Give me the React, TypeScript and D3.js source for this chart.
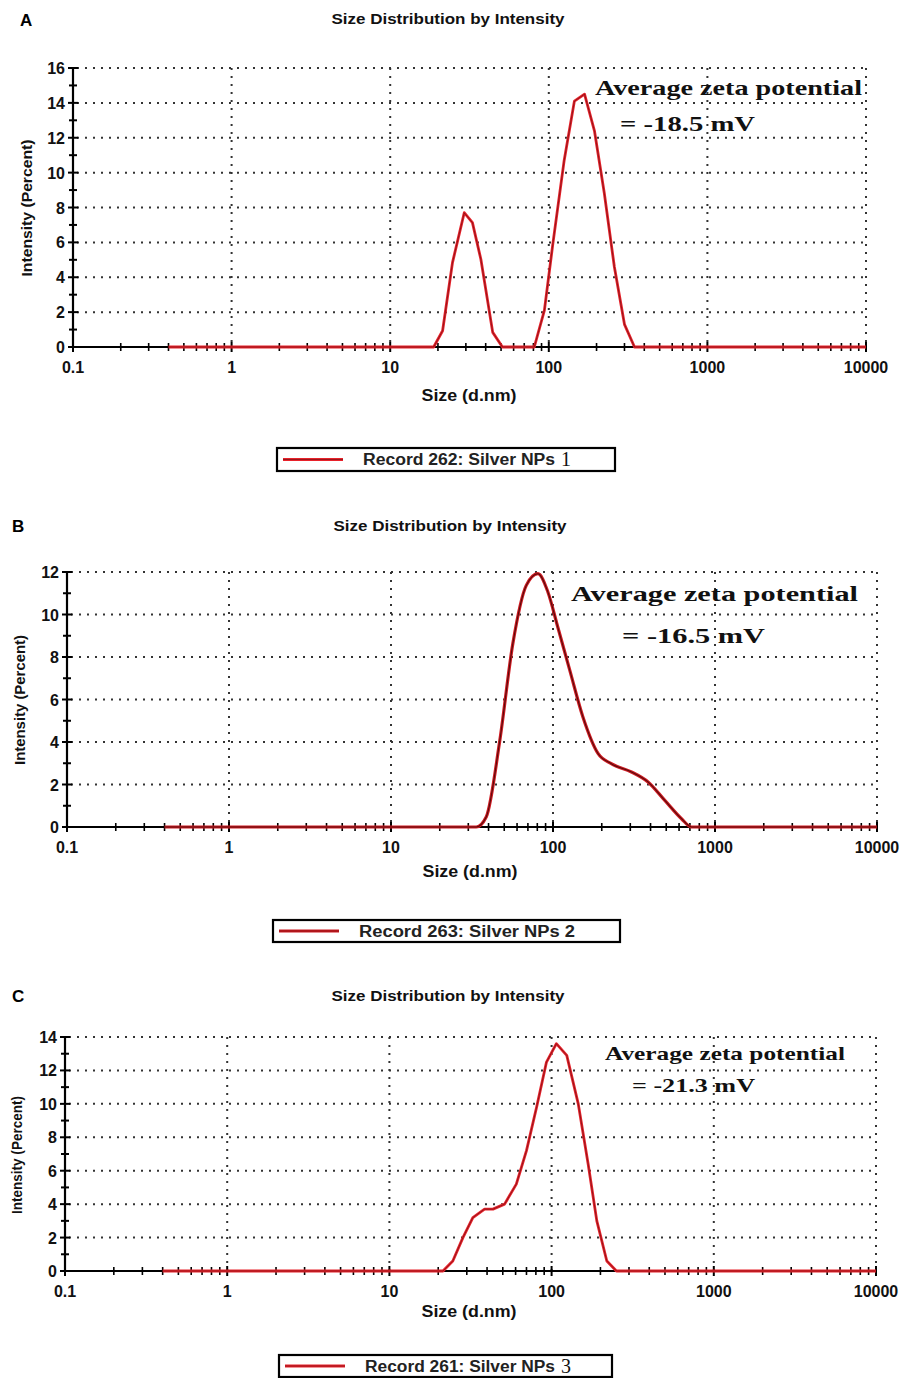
import React from "react";
import * as d3 from "d3";

// ---------- data ----------
const X_TICKS = [0.1, 1, 10, 100, 1000, 10000];
const X_TICK_LABELS = ["0.1", "1", "10", "100", "1000", "10000"];

const A_SIZE = [0.4, 18.8, 21.4, 24.7, 29.3, 33, 37.3, 44.3, 51, 81, 93.8, 106, 125, 145, 168, 194, 224, 259, 300, 347, 10000];
const A_INT = [0, 0, 0.93, 4.84, 7.7, 7.13, 5.03, 0.84, 0, 0, 2.1, 5.9, 10.7, 14.1, 14.5, 12.4, 8.8, 4.6, 1.3, 0, 0];

const B_SIZE = [0.4, 33.6, 38.7, 46.8, 56.5, 68.4, 80.7, 93, 107, 127, 153, 190, 229, 305, 386, 490, 621, 716, 10000];
const B_INT = [0, 0, 0.47, 4.0, 8.63, 11.37, 11.92, 11.06, 9.41, 7.37, 5.18, 3.45, 2.98, 2.59, 2.12, 1.25, 0.39, 0, 0];

const C_SIZE = [0.4, 21.4, 24.6, 28.4, 32.7, 38.6, 43.5, 51.3, 60.6, 70, 80.8, 93, 107, 124, 146, 168, 190, 219, 251, 10000];
const C_INT = [0, 0, 0.6, 2.0, 3.2, 3.7, 3.7, 4.0, 5.2, 7.2, 9.8, 12.5, 13.6, 12.9, 10.0, 6.4, 3.0, 0.6, 0, 0];

const PANEL_LETTERS = ["A", "B", "C"];
const TITLE = "Size Distribution by Intensity";
const X_LABEL = "Size (d.nm)";
const Y_LABEL = "Intensity (Percent)";
const Y_MAX = [16, 12, 14];
const LEGEND_TEXT = ["Record 262: Silver NPs", "Record 263: Silver NPs 2", "Record 261: Silver NPs"];
const LEGEND_SERIF = ["1", "", "3"];
const ZETA_LINE1 = "Average zeta potential";
const ZETA_LINE2 = ["= -18.5 mV", "= -16.5 mV", "= -21.3 mV"];

// ---------- layout ----------
const LAYOUT = [
  {
    left: 73, right: 866, top: 68, bottom: 347,
    letter: [20, 26], title: [448, 24], xlab: [469, 401], ylab: [27, 208, 137],
    legend: [277, 448, 338, 23], legTextW: 192,
    z1: [595, 95, 267, 21], z2: [620, 131, 135, 21],
    curve: d3.curveLinear, red: "#e8222b", dark: "#2a0505", redW: 2.8, darkW: 0.8, darkOp: 0.55,
  },
  {
    left: 67, right: 877, top: 572, bottom: 827,
    letter: [12, 532], title: [450, 531], xlab: [470, 877], ylab: [20, 700, 130],
    legend: [273, 920, 347, 22], legTextW: 216,
    z1: [571, 601, 287, 22], z2: [622, 643, 143, 22],
    curve: d3.curveMonotoneX, red: "#cf1b22", dark: "#3a0606", redW: 3.2, darkW: 1.1, darkOp: 0.8,
  },
  {
    left: 65, right: 876, top: 1037, bottom: 1271,
    letter: [12, 1002], title: [448, 1001], xlab: [469, 1317], ylab: [17, 1155, 118],
    legend: [279, 1355, 333, 22], legTextW: 190,
    z1: [605, 1060, 240, 19], z2: [632, 1092, 123, 19],
    curve: d3.curveLinear, red: "#e8222b", dark: "#2a0505", redW: 2.8, darkW: 0.8, darkOp: 0.55,
  },
];

const SANS = "Arial, 'Liberation Sans', Helvetica, sans-serif";
const SERIF = "'Times New Roman', 'Liberation Serif', serif";

function Panel({ idx, sizes, values }: { idx: number; sizes: number[]; values: number[] }) {
  const L = LAYOUT[idx];
  const yMax = Y_MAX[idx];
  const x = d3.scaleLog().domain([0.1, 10000]).range([L.left, L.right]);
  const y = d3.scaleLinear().domain([0, yMax]).range([L.bottom, L.top]);

  const pts = sizes.map((s, i) => [s, values[i]] as [number, number]);
  const line = d3
    .line<[number, number]>()
    .x((d) => x(d[0]))
    .y((d) => y(d[1]))
    .curve(L.curve);
  const path = line(pts) || "";

  const yMajors = d3.range(0, yMax + 1, 2);
  const yMinors = d3.range(1, yMax, 2);
  const xMinors: number[] = [];
  for (let e = -1; e < 4; e++) {
    for (let m = 2; m <= 9; m++) xMinors.push(m * Math.pow(10, e));
  }

  const gridColor = "#333";
  const dash = "2 6";
  const legMidY = L.legend[1] + L.legend[3] / 2;
  const legTextX = L.legend[0] + 86;

  return (
    <g>
      <text x={L.letter[0]} y={L.letter[1]} fontFamily={SANS} fontWeight="bold" fontSize={17} fill="#000">
        {PANEL_LETTERS[idx]}
      </text>
      <text x={L.title[0]} y={L.title[1]} textAnchor="middle" fontFamily={SANS} fontWeight="bold" fontSize={15}
        textLength={233} lengthAdjust="spacingAndGlyphs" fill="#111">
        {TITLE}
      </text>

      {/* grid */}
      {yMajors.filter((v) => v > 0).map((v) => (
        <line key={"gy" + v} x1={L.left + 4} x2={L.right} y1={y(v)} y2={y(v)}
          stroke={gridColor} strokeWidth={2} strokeDasharray={dash} />
      ))}
      {X_TICKS.filter((v) => v > 0.1).map((v) => (
        <line key={"gx" + v} x1={x(v)} x2={x(v)} y1={L.top} y2={L.bottom}
          stroke={gridColor} strokeWidth={2} strokeDasharray={dash} />
      ))}

      {/* axes */}
      <line x1={L.left} x2={L.left} y1={L.top - 1} y2={L.bottom} stroke="#000" strokeWidth={2.2} />
      <line x1={L.left} x2={L.right} y1={L.bottom} y2={L.bottom} stroke="#000" strokeWidth={2.2} />
      {yMajors.map((v) => (
        <line key={"ty" + v} x1={L.left - 5} x2={L.left + 5} y1={y(v)} y2={y(v)} stroke="#000" strokeWidth={2} />
      ))}
      {yMinors.map((v) => (
        <line key={"tym" + v} x1={L.left - 4} x2={L.left + 4} y1={y(v)} y2={y(v)} stroke="#000" strokeWidth={2} />
      ))}
      {X_TICKS.map((v) => (
        <line key={"tx" + v} x1={x(v)} x2={x(v)} y1={L.bottom - 5} y2={L.bottom + 5} stroke="#000" strokeWidth={2} />
      ))}
      {xMinors.map((v) => (
        <line key={"txm" + v} x1={x(v)} x2={x(v)} y1={L.bottom - 4} y2={L.bottom + 4} stroke="#000" strokeWidth={1.6} />
      ))}

      {/* tick labels */}
      {yMajors.map((v) => (
        <text key={"ly" + v} x={L.left - 8} y={y(v) + 6} textAnchor="end" fontFamily={SANS} fontWeight="bold"
          fontSize={16} fill="#111">
          {v}
        </text>
      ))}
      {X_TICKS.map((v, i) => (
        <text key={"lx" + v} x={x(v)} y={L.bottom + 26} textAnchor="middle" fontFamily={SANS} fontWeight="bold"
          fontSize={16} fill="#111">
          {X_TICK_LABELS[i]}
        </text>
      ))}

      {/* axis labels */}
      <text x={L.xlab[0]} y={L.xlab[1]} textAnchor="middle" fontFamily={SANS} fontWeight="bold" fontSize={16}
        textLength={95} lengthAdjust="spacingAndGlyphs" fill="#111">
        {X_LABEL}
      </text>
      <text transform={`translate(${L.ylab[0] + 5},${L.ylab[1]}) rotate(-90)`} textAnchor="middle" fontFamily={SANS}
        fontWeight="bold" fontSize={14} textLength={L.ylab[2]} lengthAdjust="spacingAndGlyphs" fill="#111">
        {Y_LABEL}
      </text>

      {/* data line */}
      <path d={path} fill="none" stroke={L.red} strokeWidth={L.redW} strokeLinejoin="round" />
      <path d={path} fill="none" stroke={L.dark} strokeWidth={L.darkW} strokeLinejoin="round" opacity={L.darkOp} />

      {/* zeta annotation */}
      <text x={L.z1[0]} y={L.z1[1]} fontFamily={SERIF} fontWeight="bold" fontSize={L.z1[3]}
        textLength={L.z1[2]} lengthAdjust="spacingAndGlyphs" fill="#111">
        {ZETA_LINE1}
      </text>
      <text x={L.z2[0]} y={L.z2[1]} fontFamily={SERIF} fontWeight="bold" fontSize={L.z2[3]}
        textLength={L.z2[2]} lengthAdjust="spacingAndGlyphs" fill="#111">
        {ZETA_LINE2[idx]}
      </text>

      {/* legend */}
      <rect x={L.legend[0]} y={L.legend[1]} width={L.legend[2]} height={L.legend[3]} fill="#fff" stroke="#000"
        strokeWidth={2.2} />
      <line x1={L.legend[0] + 6} x2={L.legend[0] + 66} y1={legMidY} y2={legMidY} stroke={L.red} strokeWidth={3} />
      <line x1={L.legend[0] + 6} x2={L.legend[0] + 66} y1={legMidY} y2={legMidY} stroke={L.dark} strokeWidth={0.8}
        opacity={0.5} />
      <text x={legTextX} y={legMidY + 5.5} fontFamily={SANS} fontSize={16} fontWeight="bold" fill="#222"
        textLength={L.legTextW} lengthAdjust="spacingAndGlyphs">
        {LEGEND_TEXT[idx]}
      </text>
      {LEGEND_SERIF[idx] && (
        <text x={legTextX + L.legTextW + 6} y={legMidY + 6.5} fontFamily={SERIF} fontSize={20} fill="#111">
          {LEGEND_SERIF[idx]}
        </text>
      )}
    </g>
  );
}

export default function App() {
  return (
    <svg width={904} height={1378} style={{ position: "absolute", left: 0, top: 0, background: "#fff" }}>
      <rect x={0} y={0} width={904} height={1378} fill="#fff" />
      <Panel idx={0} sizes={A_SIZE} values={A_INT} />
      <Panel idx={1} sizes={B_SIZE} values={B_INT} />
      <Panel idx={2} sizes={C_SIZE} values={C_INT} />
    </svg>
  );
}
